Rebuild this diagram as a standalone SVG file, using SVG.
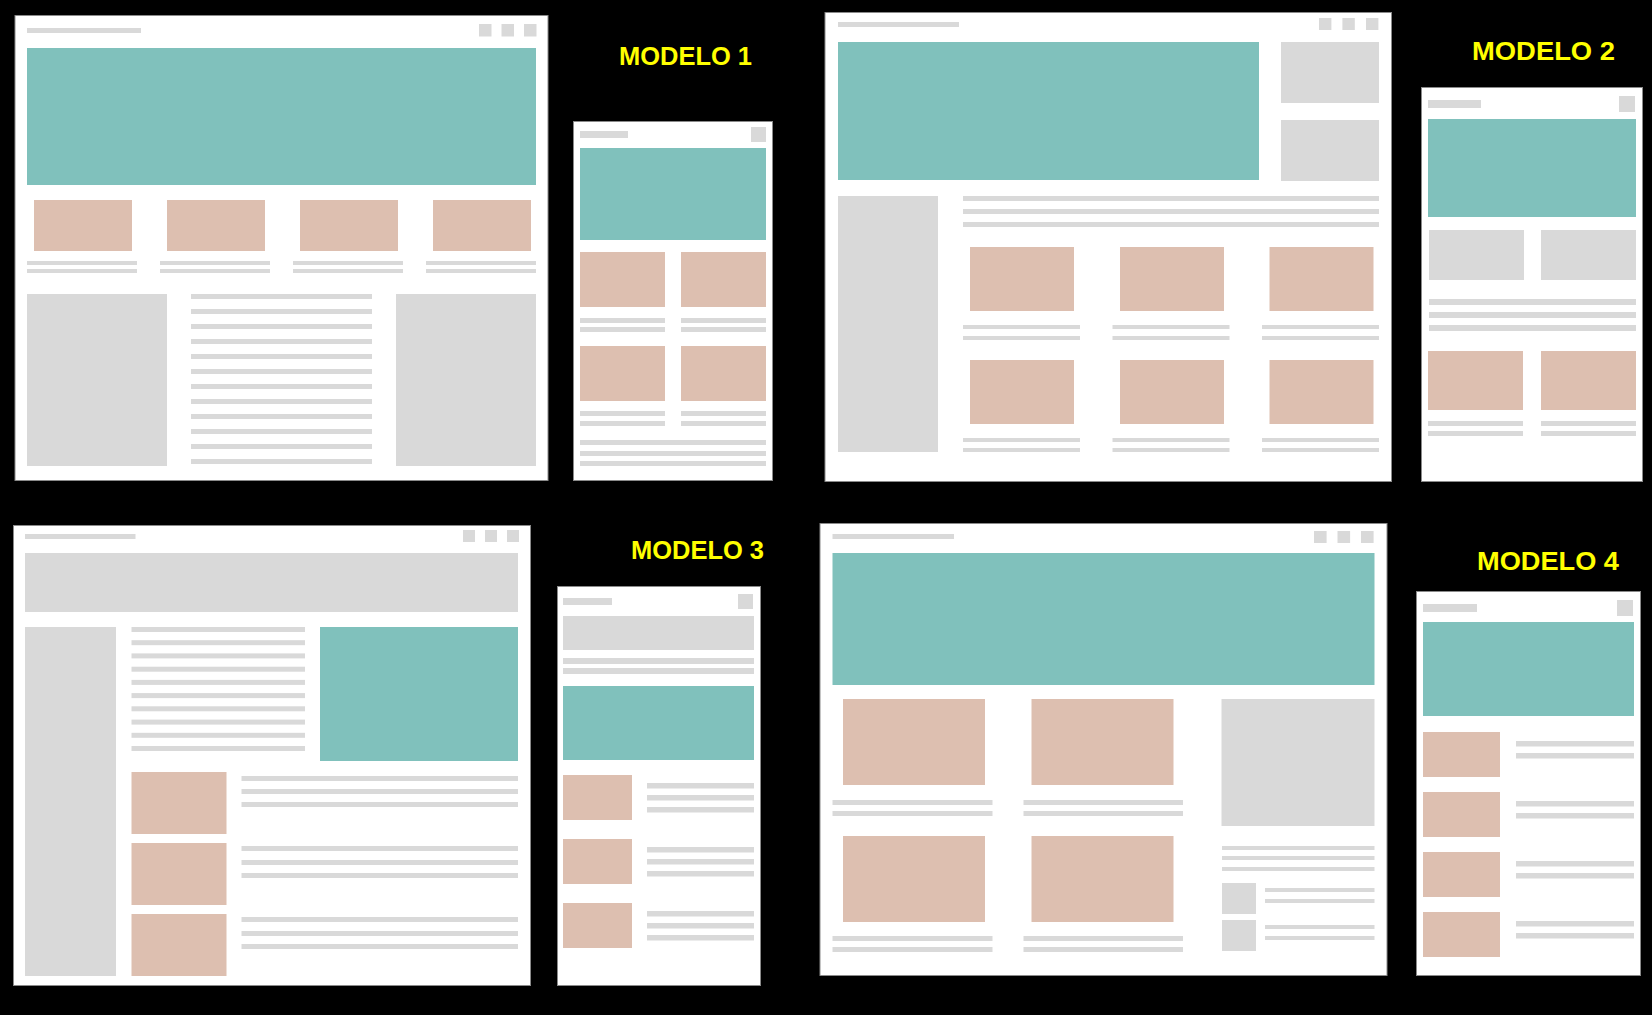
<svg xmlns="http://www.w3.org/2000/svg" width="1652" height="1015" viewBox="0 0 1652 1015">
  <style>
    .frame { fill: #ffffff; stroke: #8a8a8a; stroke-width: 1; }
    .hero { fill: #80c1bc; }
    .card { fill: #ddbfb0; }
    .block { fill: #d9d9d9; }
    .ln { fill: #d9d9d9; }
    .label { fill: #ffff00; font-family: "Liberation Sans", Arial, sans-serif; font-weight: bold; font-size: 26px; }
  </style>

  <rect x="0" y="0" width="1652" height="1015" fill="#000000"/>

  <!-- Model 1: desktop -->
  <g id="modelo1-desktop">
    <rect class="frame" x="15" y="15.5" width="533" height="465"/>
    <rect class="block" x="27" y="28" width="114" height="5"/>
    <rect class="block" x="479" y="24" width="12.5" height="12.5"/>
    <rect class="block" x="501.5" y="24" width="12.5" height="12.5"/>
    <rect class="block" x="524" y="24" width="12.5" height="12.5"/>
    <rect class="hero" x="27" y="48" width="509" height="137"/>
    <rect class="card" x="34" y="200" width="98" height="51"/>
    <rect class="card" x="167" y="200" width="98" height="51"/>
    <rect class="card" x="300" y="200" width="98" height="51"/>
    <rect class="card" x="433" y="200" width="98" height="51"/>
    <rect class="ln" x="27" y="261" width="110" height="4"/>
    <rect class="ln" x="27" y="269" width="110" height="4"/>
    <rect class="ln" x="160" y="261" width="110" height="4"/>
    <rect class="ln" x="160" y="269" width="110" height="4"/>
    <rect class="ln" x="293" y="261" width="110" height="4"/>
    <rect class="ln" x="293" y="269" width="110" height="4"/>
    <rect class="ln" x="426" y="261" width="110" height="4"/>
    <rect class="ln" x="426" y="269" width="110" height="4"/>
    <rect class="block" x="27" y="294" width="140" height="172"/>
    <rect class="block" x="396" y="294" width="140" height="172"/>
    <rect class="ln" x="191" y="294" width="181" height="5"/>
    <rect class="ln" x="191" y="309" width="181" height="5"/>
    <rect class="ln" x="191" y="324" width="181" height="5"/>
    <rect class="ln" x="191" y="339" width="181" height="5"/>
    <rect class="ln" x="191" y="354" width="181" height="5"/>
    <rect class="ln" x="191" y="369" width="181" height="5"/>
    <rect class="ln" x="191" y="384" width="181" height="5"/>
    <rect class="ln" x="191" y="399" width="181" height="5"/>
    <rect class="ln" x="191" y="414" width="181" height="5"/>
    <rect class="ln" x="191" y="429" width="181" height="5"/>
    <rect class="ln" x="191" y="444" width="181" height="5"/>
    <rect class="ln" x="191" y="459" width="181" height="5"/>
  </g>

  <!-- Model 1: mobile -->
  <g id="modelo1-mobile">
    <rect class="frame" x="573.5" y="121.5" width="199" height="359"/>
    <rect class="block" x="580" y="131" width="48" height="7"/>
    <rect class="block" x="751" y="127" width="15" height="15"/>
    <rect class="hero" x="580" y="148" width="186" height="92"/>
    <rect class="card" x="580" y="252" width="85" height="55"/>
    <rect class="card" x="681" y="252" width="85" height="55"/>
    <rect class="ln" x="580" y="318" width="85" height="5"/>
    <rect class="ln" x="580" y="327" width="85" height="5"/>
    <rect class="ln" x="681" y="318" width="85" height="5"/>
    <rect class="ln" x="681" y="327" width="85" height="5"/>
    <rect class="card" x="580" y="346" width="85" height="55"/>
    <rect class="card" x="681" y="346" width="85" height="55"/>
    <rect class="ln" x="580" y="411" width="85" height="5"/>
    <rect class="ln" x="580" y="421" width="85" height="5"/>
    <rect class="ln" x="681" y="411" width="85" height="5"/>
    <rect class="ln" x="681" y="421" width="85" height="5"/>
    <rect class="ln" x="580" y="440" width="186" height="5"/>
    <rect class="ln" x="580" y="451" width="186" height="5"/>
    <rect class="ln" x="580" y="461" width="186" height="5"/>
  </g>
  <text id="label-modelo1" class="label" x="619" y="65" textLength="133" lengthAdjust="spacingAndGlyphs">MODELO 1</text>

  <!-- Model 2: desktop -->
  <g id="modelo2-desktop">
    <rect class="frame" x="825" y="12.5" width="566.5" height="469"/>
    <rect class="block" x="838" y="22" width="121" height="5"/>
    <rect class="block" x="1319" y="18" width="12.4" height="12"/>
    <rect class="block" x="1342.4" y="18" width="12.4" height="12"/>
    <rect class="block" x="1366" y="18" width="12.4" height="12"/>
    <rect class="hero" x="838" y="42" width="421" height="138"/>
    <rect class="block" x="1281" y="42" width="98" height="61"/>
    <rect class="block" x="1281" y="120" width="98" height="61"/>
    <rect class="block" x="838" y="196" width="100" height="256"/>
    <rect class="ln" x="963" y="196" width="416" height="5"/>
    <rect class="ln" x="963" y="209" width="416" height="5"/>
    <rect class="ln" x="963" y="222" width="416" height="5"/>
    <rect class="card" x="970" y="247" width="104" height="64"/>
    <rect class="card" x="1120" y="247" width="104" height="64"/>
    <rect class="card" x="1269.5" y="247" width="104" height="64"/>
    <rect class="ln" x="963" y="325" width="117" height="4"/>
    <rect class="ln" x="963" y="336" width="117" height="4"/>
    <rect class="ln" x="1112.5" y="325" width="117" height="4"/>
    <rect class="ln" x="1112.5" y="336" width="117" height="4"/>
    <rect class="ln" x="1262" y="325" width="117" height="4"/>
    <rect class="ln" x="1262" y="336" width="117" height="4"/>
    <rect class="card" x="970" y="360" width="104" height="64"/>
    <rect class="card" x="1120" y="360" width="104" height="64"/>
    <rect class="card" x="1269.5" y="360" width="104" height="64"/>
    <rect class="ln" x="963" y="438" width="117" height="4"/>
    <rect class="ln" x="963" y="448" width="117" height="4"/>
    <rect class="ln" x="1112.5" y="438" width="117" height="4"/>
    <rect class="ln" x="1112.5" y="448" width="117" height="4"/>
    <rect class="ln" x="1262" y="438" width="117" height="4"/>
    <rect class="ln" x="1262" y="448" width="117" height="4"/>
  </g>

  <!-- Model 2: mobile -->
  <g id="modelo2-mobile">
    <rect class="frame" x="1421.5" y="87.5" width="221" height="394"/>
    <rect class="block" x="1428" y="100" width="53" height="8"/>
    <rect class="block" x="1619" y="96" width="16" height="16"/>
    <rect class="hero" x="1428" y="119" width="208" height="98"/>
    <rect class="block" x="1429" y="230" width="95" height="50"/>
    <rect class="block" x="1541" y="230" width="95" height="50"/>
    <rect class="ln" x="1429" y="299" width="207" height="6"/>
    <rect class="ln" x="1429" y="312" width="207" height="6"/>
    <rect class="ln" x="1429" y="325" width="207" height="6"/>
    <rect class="card" x="1428" y="351" width="95" height="59"/>
    <rect class="card" x="1541" y="351" width="95" height="59"/>
    <rect class="ln" x="1428" y="421" width="95" height="5"/>
    <rect class="ln" x="1428" y="431" width="95" height="5"/>
    <rect class="ln" x="1541" y="421" width="95" height="5"/>
    <rect class="ln" x="1541" y="431" width="95" height="5"/>
  </g>
  <text id="label-modelo2" class="label" x="1472" y="60" textLength="143" lengthAdjust="spacingAndGlyphs">MODELO 2</text>

  <!-- Model 3: desktop -->
  <g id="modelo3-desktop">
    <rect class="frame" x="13.5" y="525.5" width="517" height="460"/>
    <rect class="block" x="25" y="534" width="110.5" height="5"/>
    <rect class="block" x="463" y="530" width="12" height="12"/>
    <rect class="block" x="485" y="530" width="12" height="12"/>
    <rect class="block" x="507" y="530" width="12" height="12"/>
    <rect class="block" x="25" y="553" width="493" height="59"/>
    <rect class="block" x="25" y="627" width="91" height="349"/>
    <rect class="ln" x="131.5" y="627" width="173.5" height="5"/>
    <rect class="ln" x="131.5" y="640.2" width="173.5" height="5"/>
    <rect class="ln" x="131.5" y="653.4" width="173.5" height="5"/>
    <rect class="ln" x="131.5" y="666.7" width="173.5" height="5"/>
    <rect class="ln" x="131.5" y="679.9" width="173.5" height="5"/>
    <rect class="ln" x="131.5" y="693.1" width="173.5" height="5"/>
    <rect class="ln" x="131.5" y="706.3" width="173.5" height="5"/>
    <rect class="ln" x="131.5" y="719.6" width="173.5" height="5"/>
    <rect class="ln" x="131.5" y="732.8" width="173.5" height="5"/>
    <rect class="ln" x="131.5" y="746" width="173.5" height="5"/>
    <rect class="hero" x="320" y="627" width="198" height="134"/>
    <rect class="card" x="131.5" y="772" width="95" height="62"/>
    <rect class="card" x="131.5" y="843" width="95" height="62"/>
    <rect class="card" x="131.5" y="914" width="95" height="62"/>
    <rect class="ln" x="241.5" y="776" width="276.5" height="5"/>
    <rect class="ln" x="241.5" y="789" width="276.5" height="5"/>
    <rect class="ln" x="241.5" y="802" width="276.5" height="5"/>
    <rect class="ln" x="241.5" y="846" width="276.5" height="5"/>
    <rect class="ln" x="241.5" y="860" width="276.5" height="5"/>
    <rect class="ln" x="241.5" y="873" width="276.5" height="5"/>
    <rect class="ln" x="241.5" y="917" width="276.5" height="5"/>
    <rect class="ln" x="241.5" y="931" width="276.5" height="5"/>
    <rect class="ln" x="241.5" y="944" width="276.5" height="5"/>
  </g>

  <!-- Model 3: mobile -->
  <g id="modelo3-mobile">
    <rect class="frame" x="557.5" y="586.5" width="203" height="399"/>
    <rect class="block" x="563" y="598" width="49" height="7"/>
    <rect class="block" x="738" y="594" width="15" height="15"/>
    <rect class="block" x="563" y="616" width="191" height="34"/>
    <rect class="ln" x="563" y="658" width="191" height="6"/>
    <rect class="ln" x="563" y="668" width="191" height="6"/>
    <rect class="hero" x="563" y="686" width="191" height="74"/>
    <rect class="card" x="563" y="775" width="69" height="45"/>
    <rect class="card" x="563" y="839" width="69" height="45"/>
    <rect class="card" x="563" y="903" width="69" height="45"/>
    <rect class="ln" x="647" y="783" width="107" height="5.5"/>
    <rect class="ln" x="647" y="795" width="107" height="5.5"/>
    <rect class="ln" x="647" y="807" width="107" height="5.5"/>
    <rect class="ln" x="647" y="847" width="107" height="5.5"/>
    <rect class="ln" x="647" y="859" width="107" height="5.5"/>
    <rect class="ln" x="647" y="871" width="107" height="5.5"/>
    <rect class="ln" x="647" y="911" width="107" height="5.5"/>
    <rect class="ln" x="647" y="923" width="107" height="5.5"/>
    <rect class="ln" x="647" y="935" width="107" height="5.5"/>
  </g>
  <text id="label-modelo3" class="label" x="631" y="559" textLength="133" lengthAdjust="spacingAndGlyphs">MODELO 3</text>

  <!-- Model 4: desktop -->
  <g id="modelo4-desktop">
    <rect class="frame" x="820" y="523.5" width="567" height="452"/>
    <rect class="block" x="832.5" y="534" width="121.5" height="5"/>
    <rect class="block" x="1314" y="531" width="12.6" height="12"/>
    <rect class="block" x="1337.5" y="531" width="12.6" height="12"/>
    <rect class="block" x="1361" y="531" width="12.6" height="12"/>
    <rect class="hero" x="832.5" y="553" width="542" height="132"/>
    <rect class="card" x="843" y="699" width="142" height="86"/>
    <rect class="card" x="1031.5" y="699" width="142" height="86"/>
    <rect class="ln" x="832.5" y="800" width="160" height="5"/>
    <rect class="ln" x="832.5" y="811" width="160" height="5"/>
    <rect class="ln" x="1023.5" y="800" width="159.5" height="5"/>
    <rect class="ln" x="1023.5" y="811" width="159.5" height="5"/>
    <rect class="card" x="843" y="836" width="142" height="86"/>
    <rect class="card" x="1031.5" y="836" width="142" height="86"/>
    <rect class="ln" x="832.5" y="936" width="160" height="5"/>
    <rect class="ln" x="832.5" y="947" width="160" height="5"/>
    <rect class="ln" x="1023.5" y="936" width="159.5" height="5"/>
    <rect class="ln" x="1023.5" y="947" width="159.5" height="5"/>
    <rect class="block" x="1221.5" y="699" width="153" height="127"/>
    <rect class="ln" x="1222" y="846" width="152.5" height="4"/>
    <rect class="ln" x="1222" y="856" width="152.5" height="4"/>
    <rect class="ln" x="1222" y="867" width="152.5" height="4"/>
    <rect class="block" x="1222" y="883" width="34" height="31"/>
    <rect class="block" x="1222" y="920" width="34" height="31"/>
    <rect class="ln" x="1265" y="888" width="109.5" height="4"/>
    <rect class="ln" x="1265" y="899" width="109.5" height="4"/>
    <rect class="ln" x="1265" y="925" width="109.5" height="4"/>
    <rect class="ln" x="1265" y="936" width="109.5" height="4"/>
  </g>

  <!-- Model 4: mobile -->
  <g id="modelo4-mobile">
    <rect class="frame" x="1416.5" y="591.5" width="224" height="384"/>
    <rect class="block" x="1423" y="604" width="54" height="8"/>
    <rect class="block" x="1617" y="600" width="16" height="16"/>
    <rect class="hero" x="1423" y="622" width="211" height="94"/>
    <rect class="card" x="1423" y="732" width="77" height="45"/>
    <rect class="card" x="1423" y="792" width="77" height="45"/>
    <rect class="card" x="1423" y="852" width="77" height="45"/>
    <rect class="card" x="1423" y="912" width="77" height="45"/>
    <rect class="ln" x="1516" y="741" width="118" height="5.5"/>
    <rect class="ln" x="1516" y="753" width="118" height="5.5"/>
    <rect class="ln" x="1516" y="801" width="118" height="5.5"/>
    <rect class="ln" x="1516" y="813" width="118" height="5.5"/>
    <rect class="ln" x="1516" y="861" width="118" height="5.5"/>
    <rect class="ln" x="1516" y="873" width="118" height="5.5"/>
    <rect class="ln" x="1516" y="921" width="118" height="5.5"/>
    <rect class="ln" x="1516" y="933" width="118" height="5.5"/>
  </g>
  <text id="label-modelo4" class="label" x="1477" y="570" textLength="142" lengthAdjust="spacingAndGlyphs">MODELO 4</text>
</svg>
